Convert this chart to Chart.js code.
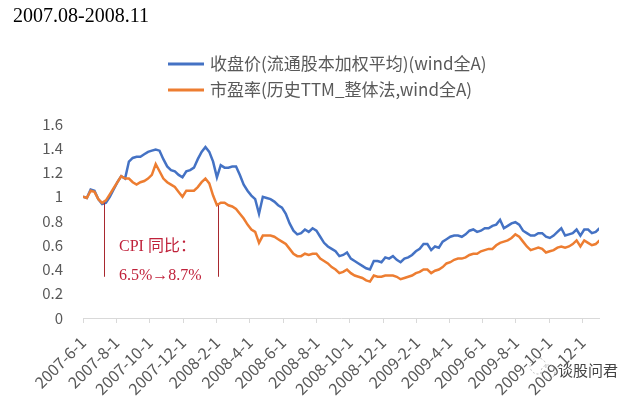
<!DOCTYPE html>
<html>
<head>
<meta charset="utf-8">
<script src="https://cdn.jsdelivr.net/npm/chart.js@4.4.1/dist/chart.umd.min.js"></script>
<style>
html,body{margin:0;padding:0;background:#fff}
#wrap{width:638px;height:398px;position:relative}
</style>
</head>
<body>
<div id="wrap"><canvas id="ex_chart"></canvas></div>
<script>
// weekly samples starting 2007-6-1
const startDate = '2007-6-1';
const tickLabels = ['2007-6-1','2007-8-1','2007-10-1','2007-12-1','2008-2-1','2008-4-1','2008-6-1','2008-8-1',
  '2008-10-1','2008-12-1','2009-2-1','2009-4-1','2009-6-1','2009-8-1','2009-10-1','2009-12-1'];
const endDate = '2009-12-31';
const seriesNames = ['收盘价(流通股本加权平均)(wind全A)', '市盈率(历史TTM_整体法,wind全A)'];

const closePrice = [1.00,0.99,1.06,1.05,0.98,0.94,0.95,1.00,1.06,1.12,1.17,1.15,1.29,1.32,1.33,1.33,1.35,1.37,1.38,1.39,
  1.38,1.31,1.25,1.22,1.21,1.18,1.16,1.21,1.22,1.24,1.31,1.37,1.41,1.37,1.29,1.16,1.26,1.24,1.24,1.25,
  1.25,1.18,1.10,1.05,1.01,0.98,0.86,1.00,0.99,0.98,0.96,0.93,0.91,0.86,0.78,0.72,0.69,0.70,0.73,0.71,
  0.74,0.72,0.67,0.62,0.59,0.57,0.55,0.51,0.52,0.54,0.49,0.47,0.45,0.43,0.41,0.40,0.47,0.47,0.46,0.50,
  0.49,0.51,0.48,0.46,0.49,0.50,0.52,0.55,0.57,0.61,0.61,0.56,0.59,0.58,0.63,0.65,0.67,0.68,0.68,0.67,
  0.69,0.72,0.73,0.71,0.72,0.74,0.74,0.76,0.77,0.81,0.74,0.76,0.78,0.79,0.77,0.72,0.70,0.68,0.68,0.70,
  0.70,0.67,0.66,0.68,0.71,0.74,0.68,0.69,0.70,0.73,0.68,0.73,0.73,0.70,0.71,0.74];

const peRatio = [1.00,0.99,1.05,1.04,0.98,0.95,0.97,1.02,1.07,1.12,1.17,1.15,1.15,1.12,1.10,1.12,1.13,1.15,1.18,1.27,
  1.21,1.15,1.12,1.10,1.08,1.04,1.00,1.05,1.05,1.05,1.08,1.12,1.15,1.11,1.01,0.93,0.95,0.95,0.93,0.92,
  0.90,0.86,0.82,0.77,0.73,0.71,0.62,0.68,0.68,0.68,0.67,0.65,0.63,0.61,0.57,0.53,0.51,0.51,0.53,0.52,
  0.53,0.53,0.49,0.47,0.45,0.42,0.40,0.37,0.38,0.40,0.37,0.35,0.34,0.33,0.31,0.30,0.35,0.34,0.34,0.35,
  0.35,0.35,0.34,0.32,0.33,0.34,0.35,0.37,0.38,0.40,0.40,0.37,0.39,0.40,0.42,0.45,0.46,0.48,0.49,0.49,
  0.50,0.52,0.53,0.53,0.55,0.56,0.57,0.57,0.60,0.62,0.63,0.64,0.66,0.69,0.67,0.63,0.59,0.56,0.57,0.58,
  0.57,0.54,0.55,0.56,0.58,0.59,0.58,0.59,0.61,0.64,0.59,0.64,0.62,0.60,0.61,0.64];

// CPI markers
const cpiDates = ['2007-7-9', '2008-2-3'];
const cpiTops = [0.95, 0.93];
const cpiBottom = 0.34;
const cpiText = ['CPI 同比：', '6.5%→8.7%'];

function dayOf(s) {
  const p = s.split('-').map(Number);
  const b = startDate.split('-').map(Number);
  return (Date.UTC(p[0], p[1] - 1, p[2]) - Date.UTC(b[0], b[1] - 1, b[2])) / 864e5;
}
const labelAt = {};
tickLabels.forEach(s => { labelAt[dayOf(s)] = s; });

const gray = '#595959';
const cjk = '"Noto Sans CJK SC", "Noto Sans", sans-serif';

const extras = {
  id: 'extras',
  afterDraw(chart) {
    const c = chart.ctx, xs = chart.scales.x, ys = chart.scales.y;
    c.save();
    // title
    c.fillStyle = '#000';
    c.font = '20px "Liberation Serif", "DejaVu Serif", serif';
    c.textBaseline = 'alphabetic';
    c.textAlign = 'left';
    c.fillText('2007.08-2008.11', 13, 22);
    // legend
    chart.data.datasets.forEach((ds, i) => {
      const y = 64 + i * 26;
      c.strokeStyle = ds.borderColor;
      c.lineWidth = 3;
      c.beginPath(); c.moveTo(168, y); c.lineTo(204, y); c.stroke();
      c.fillStyle = gray;
      c.font = '17px ' + cjk;
      c.textBaseline = 'middle';
      c.fillText(ds.label, 210, y);
    });
    // CPI markers
    c.strokeStyle = '#a8282f';
    c.lineWidth = 1;
    cpiDates.forEach((d, i) => {
      const x = Math.round(xs.getPixelForValue(dayOf(d))) + 0.5;
      c.beginPath();
      c.moveTo(x, ys.getPixelForValue(cpiTops[i]));
      c.lineTo(x, ys.getPixelForValue(cpiBottom));
      c.stroke();
    });
    c.fillStyle = '#c0223b';
    c.font = '16px "Liberation Serif", "Noto Sans CJK SC", serif';
    c.textBaseline = 'alphabetic';
    c.fillText(cpiText[0], 119, 251);
    c.fillText(cpiText[1], 119, 280);
    // watermark
    c.strokeStyle = '#bbb';
    c.lineWidth = 1;
    c.setLineDash([2, 2]);
    c.beginPath(); c.arc(538, 366, 8, 0, Math.PI * 2); c.stroke();
    c.beginPath(); c.arc(548, 372, 7, 0, Math.PI * 2); c.stroke();
    c.setLineDash([]);
    c.fillStyle = '#444';
    c.font = '15px ' + cjk;
    c.textBaseline = 'middle';
    c.fillText('谈股问君', 558, 370);
    c.restore();
  }
};

let ctx = document.getElementById('ex_chart');
let ex_chart = new Chart(ctx, {
  type: 'line',
  data: {
    datasets: [{
      label: seriesNames[0],
      data: closePrice.map((v, i) => ({ x: i * 7, y: v })),
      borderColor: '#4472C4',
      borderWidth: 2.5,
      pointRadius: 0,
      tension: 0,
      order: 2
    }, {
      label: seriesNames[1],
      data: peRatio.map((v, i) => ({ x: i * 7, y: v })),
      borderColor: '#ED7D31',
      borderWidth: 2.5,
      pointRadius: 0,
      tension: 0,
      order: 1
    }]
  },
  options: {
    responsive: true,
    maintainAspectRatio: false,
    animation: false,
    layout: { padding: { left: 8, right: 39, top: 124, bottom: 0 } },
    plugins: { legend: { display: false }, tooltip: { enabled: false } },
    scales: {
      x: {
        type: 'linear',
        min: 0,
        max: dayOf(endDate),
        grid: { drawOnChartArea: false, drawTicks: true, tickLength: 5, color: '#d9d9d9' },
        border: { display: true, color: '#d9d9d9', width: 1 },
        afterBuildTicks: axis => { axis.ticks = tickLabels.map(s => ({ value: dayOf(s) })); },
        afterFit: s => { s.height = 80; },
        ticks: {
          autoSkip: false,
          minRotation: 45,
          maxRotation: 45,
          padding: 10,
          color: gray,
          font: { family: cjk, size: 16 },
          callback: v => labelAt[v] || ''
        }
      },
      y: {
        min: 0,
        max: 1.6,
        grid: { display: false },
        border: { display: false },
        afterFit: s => { s.width = 75; },
        ticks: {
          stepSize: 0.2,
          padding: 12,
          color: gray,
          font: { family: cjk, size: 15 },
          callback: v => String(+v.toFixed(1))
        }
      }
    }
  },
  plugins: [extras]
});
</script>
</body>
</html>
